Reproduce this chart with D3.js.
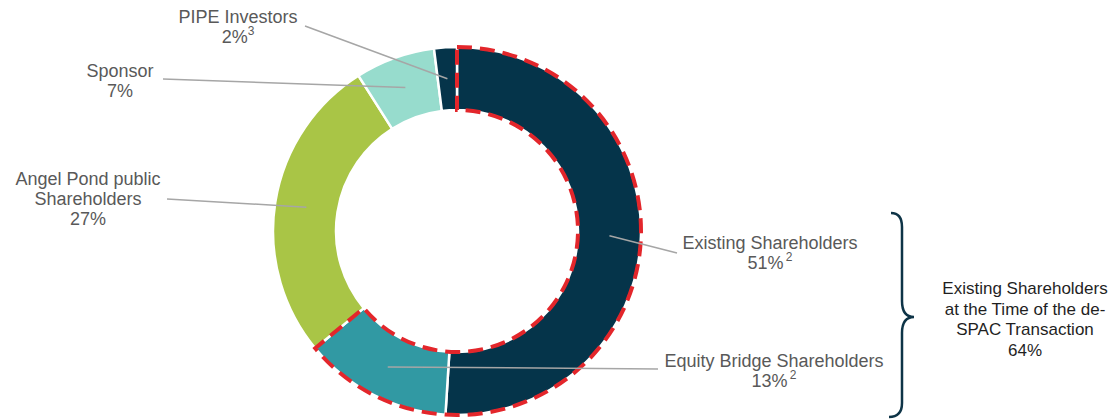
<!DOCTYPE html>
<html>
<head>
<meta charset="utf-8">
<script src="https://cdn.jsdelivr.net/npm/d3@7"></script>
<style>
  body { margin: 0; background: #fff; }
  text { font-family: "Liberation Sans", Arial, sans-serif; }
</style>
</head>
<body>
<div id="chart"></div>
<script>
const categories = ['Existing Shareholders', 'Equity Bridge Shareholders', 'Angel Pond public Shareholders', 'Sponsor', 'PIPE Investors'];
const shares = [51, 13, 27, 7, 2];
const notes = ['2', '2', '', '', '3'];
const colors = ['#05344a', '#3199a3', '#a9c546', '#97dccd', '#05344a'];
const groupLabel = ['Existing Shareholders', 'at the Time of the de-', 'SPAC Transaction', '64%'];
const groupShare = 64;

const width = 1111, height = 420;
const cx = 457, cy = 231;
const outerR = 184, innerR = 121;

const svg = d3.select('#chart').append('svg').attr('width', width).attr('height', height);
const g = svg.append('g').attr('transform', `translate(${cx},${cy})`);

const data = categories.map((c, i) => ({ name: c, value: shares[i], note: notes[i], color: colors[i] }));
const pie = d3.pie().sort(null).value(d => d.value);
const arcs = pie(data);
const arc = d3.arc().innerRadius(innerR).outerRadius(outerR);

g.selectAll('.slice').data(arcs).enter().append('path')
  .attr('class', 'slice')
  .attr('d', arc)
  .attr('fill', d => d.data.color)
  .attr('stroke', '#fff')
  .attr('stroke-width', 2.5);

// red dashed outline round the first two slices
const total = d3.sum(shares);
g.append('path')
  .attr('d', arc({ startAngle: 0, endAngle: 2 * Math.PI * groupShare / total }))
  .attr('fill', 'none')
  .attr('stroke', '#e3262b')
  .attr('stroke-width', 4)
  .attr('stroke-dasharray', '15,8');

// label layout: text centre, first baseline, leader end
const layout = [
  { x: 770, y: 249, lx: 677, ly: 253, lines: ['Existing Shareholders'] },
  { x: 774, y: 367, lx: 658, ly: 369, lines: ['Equity Bridge Shareholders'] },
  { x: 88, y: 185, lx: 167, ly: 199, lines: ['Angel Pond public', 'Shareholders'] },
  { x: 120, y: 77, lx: 163, ly: 79, lines: ['Sponsor'] },
  { x: 238, y: 23, lx: 305, ly: 26, lines: ['PIPE Investors'] }
];

arcs.forEach((a, i) => {
  const L = layout[i];
  const c = arc.centroid(a);
  svg.append('line')
    .attr('x1', cx + c[0]).attr('y1', cy + c[1])
    .attr('x2', L.lx).attr('y2', L.ly)
    .attr('stroke', '#a6a6a6').attr('stroke-width', 1.5);

  const t = svg.append('text')
    .attr('x', L.x).attr('y', L.y)
    .attr('text-anchor', 'middle')
    .attr('font-size', 18)
    .attr('fill', '#595959');
  L.lines.forEach((ln, j) => {
    t.append('tspan').attr('x', L.x).attr('dy', j === 0 ? 0 : 20).text(ln);
  });
  t.append('tspan').attr('x', L.x).attr('dy', 20).text(a.data.value + '%');
  if (a.data.note) {
    t.append('tspan').attr('font-size', 12).attr('dy', -8).text((i < 2 ? '\u2009' : '') + a.data.note);
  }
});

// curly brace
const bx = 902, bTop = 213, bMid = 317, bBot = 417;
const brace = d3.path();
brace.moveTo(bx - 11, bTop);
brace.quadraticCurveTo(bx, bTop, bx, bTop + 14);
brace.lineTo(bx, bMid - 16);
brace.quadraticCurveTo(bx, bMid, bx + 12, bMid);
brace.quadraticCurveTo(bx, bMid, bx, bMid + 16);
brace.lineTo(bx, bBot - 14);
brace.quadraticCurveTo(bx, bBot, bx - 13, bBot);
svg.append('path')
  .attr('d', brace.toString())
  .attr('fill', 'none')
  .attr('stroke', '#0e3447')
  .attr('stroke-width', 2.5);

const gt = svg.append('text')
  .attr('x', 1025).attr('y', 294)
  .attr('text-anchor', 'middle')
  .attr('font-size', 17)
  .attr('fill', '#1f1f1f');
groupLabel.forEach((ln, j) => {
  gt.append('tspan').attr('x', 1025).attr('dy', j === 0 ? 0 : 20.5).text(ln);
});
</script>
</body>
</html>
